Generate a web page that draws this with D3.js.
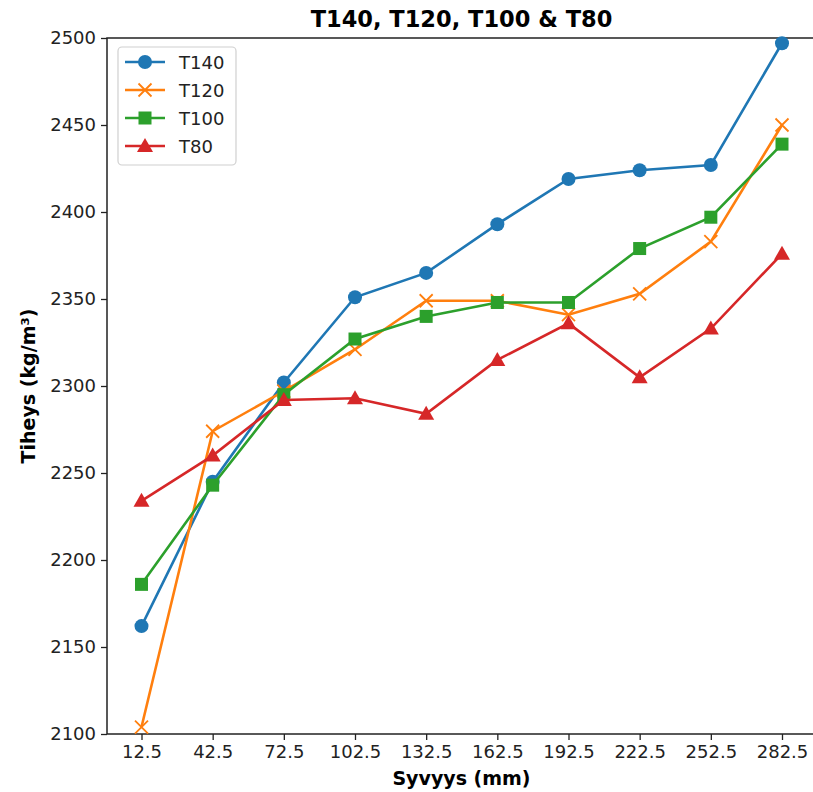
<!DOCTYPE html>
<html>
<head>
<meta charset="utf-8">
<script src="https://cdn.jsdelivr.net/npm/d3@7"></script>
<style>
  body { margin: 0; background: white; }
  svg { font-family: "DejaVu Sans", sans-serif; }
</style>
</head>
<body>
<div id="chart"></div>
<script>
// Données
const syvyys = [12.5, 42.5, 72.5, 102.5, 132.5, 162.5, 192.5, 222.5, 252.5, 282.5];
const t140 = [2162, 2245, 2302, 2351, 2365, 2393, 2419, 2424, 2427, 2497];
const t120 = [2104, 2274, 2297, 2321, 2349, 2349, 2341, 2353, 2383, 2450];
const t100 = [2186, 2243, 2295, 2327, 2340, 2348, 2348, 2379, 2397, 2439];
const t80  = [2234, 2260, 2292, 2293, 2284, 2315, 2336, 2305, 2333, 2376];
const yTicks = [2100, 2150, 2200, 2250, 2300, 2350, 2400, 2450, 2500];

const series = [
    { nom: "T140", valeurs: t140, couleur: "#1f77b4", marqueur: "circle" },
    { nom: "T120", valeurs: t120, couleur: "#ff7f0e", marqueur: "x" },
    { nom: "T100", valeurs: t100, couleur: "#2ca02c", marqueur: "square" },
    { nom: "T80",  valeurs: t80,  couleur: "#d62728", marqueur: "triangle" }
];

const W = 813, H = 792;
const gauche = 107, droite = 816, haut = 38, bas = 734;

const svg = d3.select("#chart").append("svg")
    .attr("width", W).attr("height", H);

const x = d3.scaleLinear().domain([12.5, 282.5]).range([141.5, 782]);
const y = d3.scaleLinear().domain([2100, 2500]).range([bas, haut]);

// Axes
const axeX = svg.append("g").attr("transform", "translate(0," + bas + ")")
    .call(d3.axisBottom(x).tickValues(syvyys).tickFormat(d3.format(".1f")).tickSize(6).tickPadding(5));
const axeY = svg.append("g").attr("transform", "translate(" + gauche + ",0)")
    .call(d3.axisLeft(y).tickValues(yTicks).tickFormat(d3.format("d")).tickSize(6).tickPadding(5));

[axeX, axeY].forEach(a => {
    a.select(".domain").remove();
    a.selectAll("text").attr("font-size", "18px").attr("fill", "#222")
        .attr("font-family", "DejaVu Sans");
    a.selectAll("line").attr("stroke", "#222").attr("stroke-width", 1.3);
});

// Cadre (spines)
svg.append("rect")
    .attr("x", gauche).attr("y", haut)
    .attr("width", droite - gauche).attr("height", bas - haut)
    .attr("fill", "none").attr("stroke", "#222").attr("stroke-width", 1.5);

const ligne = d3.line()
    .x((d, i) => x(syvyys[i]))
    .y(d => y(d));

function dessinerMarqueur(g, type, cx, cy, couleur) {
    if (type == "circle") {
        g.append("circle").attr("cx", cx).attr("cy", cy).attr("r", 7).attr("fill", couleur);
    } else if (type == "square") {
        g.append("rect").attr("x", cx - 6.5).attr("y", cy - 6.5)
            .attr("width", 13).attr("height", 13).attr("fill", couleur);
    } else if (type == "triangle") {
        g.append("path")
            .attr("d", "M" + cx + "," + (cy - 8) + "L" + (cx + 8) + "," + (cy + 6) + "L" + (cx - 8) + "," + (cy + 6) + "Z")
            .attr("fill", couleur);
    } else {
        const d = 6.5;
        g.append("path")
            .attr("d", "M" + (cx - d) + "," + (cy - d) + "L" + (cx + d) + "," + (cy + d) +
                       "M" + (cx - d) + "," + (cy + d) + "L" + (cx + d) + "," + (cy - d))
            .attr("stroke", couleur).attr("stroke-width", 1.8).attr("fill", "none");
    }
}

const courbes = svg.append("g");
series.forEach(s => {
    const g = courbes.append("g");
    g.append("path")
        .attr("d", ligne(s.valeurs))
        .attr("fill", "none")
        .attr("stroke", s.couleur)
        .attr("stroke-width", 2.6);
    s.valeurs.forEach((v, i) => dessinerMarqueur(g, s.marqueur, x(syvyys[i]), y(v), s.couleur));
});

// Légende
const legende = svg.append("g");
legende.append("rect")
    .attr("x", 118).attr("y", 47).attr("width", 118).attr("height", 118)
    .attr("rx", 4).attr("fill", "white").attr("fill-opacity", 0.8)
    .attr("stroke", "#d0d0d0").attr("stroke-width", 1.2);
series.forEach((s, i) => {
    const ly = 62 + i * 28;
    legende.append("line")
        .attr("x1", 125).attr("x2", 165).attr("y1", ly).attr("y2", ly)
        .attr("stroke", s.couleur).attr("stroke-width", 2.6);
    dessinerMarqueur(legende, s.marqueur, 145, ly, s.couleur);
    legende.append("text")
        .attr("x", 179).attr("y", ly + 6.5)
        .attr("font-size", "18px").attr("fill", "#222")
        .text(s.nom);
});

// Titres
svg.append("text")
    .attr("x", 461.5).attr("y", 27)
    .attr("text-anchor", "middle").attr("font-size", "22.5px").attr("font-weight", "bold")
    .text("T140, T120, T100 & T80");
svg.append("text")
    .attr("x", 461.5).attr("y", 785)
    .attr("text-anchor", "middle").attr("font-size", "19px").attr("font-weight", "bold")
    .text("Syvyys (mm)");
svg.append("text")
    .attr("transform", "translate(35,386) rotate(-90)")
    .attr("text-anchor", "middle").attr("font-size", "19px").attr("font-weight", "bold")
    .text("Tiheys (kg/m³)");
</script>
</body>
</html>
